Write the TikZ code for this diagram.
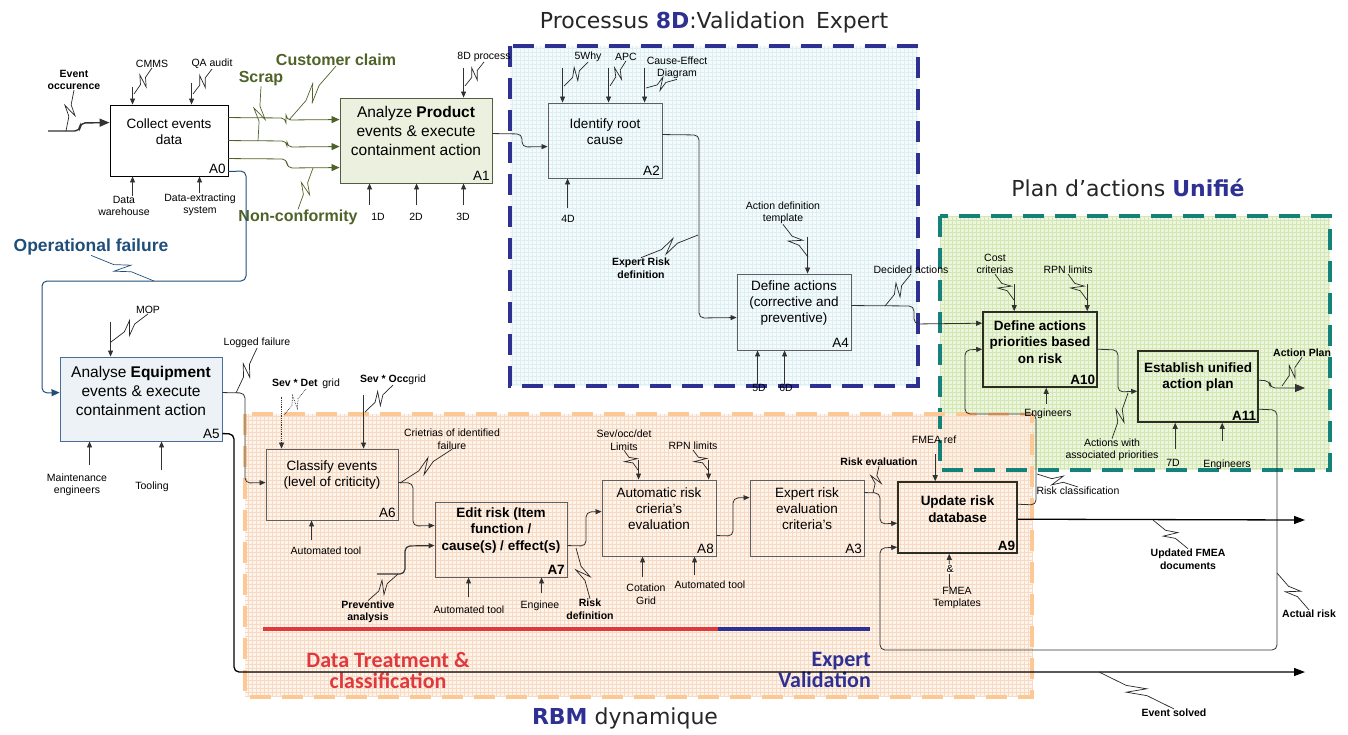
\documentclass[tikz,border=0pt]{standalone}
\usepackage{fontspec}
\setmainfont{Liberation Sans}
\newfontfamily\titlefont{DejaVu Sans}
\newfontfamily\bandfont{Carlito}
\usetikzlibrary{arrows.meta, calc}
\definecolor{c8d}{RGB}{46,49,146}
\definecolor{cteal}{RGB}{20,130,120}
\definecolor{corange}{RGB}{251,200,150}
\definecolor{fill8d}{RGB}{245,251,252}
\definecolor{grid8d}{RGB}{222,239,243}
\definecolor{fillplan}{RGB}{236,246,222}
\definecolor{gridplan}{RGB}{210,231,178}
\definecolor{fillrbm}{RGB}{253,241,229}
\definecolor{gridrbm}{RGB}{248,218,196}
\definecolor{mygreen}{RGB}{79,98,40}
\definecolor{opblue}{RGB}{31,78,121}
\definecolor{linegray}{RGB}{50,50,50}
\definecolor{boxgray}{RGB}{95,95,95}
\definecolor{boxdark}{RGB}{45,45,35}
\definecolor{a1fill}{RGB}{235,241,222}
\definecolor{a1draw}{RGB}{80,95,65}
\definecolor{a5fill}{RGB}{237,242,246}
\definecolor{a5draw}{RGB}{70,110,150}
\definecolor{redbar}{RGB}{224,56,60}
\tikzset{
  proc/.style={rectangle, draw=boxgray, line width=0.9pt, inner sep=0pt},
  boldproc/.style={proc, draw=boxdark, line width=1.6pt},
  boxtxt/.style={align=center, inner sep=0pt, font=\fontsize{13.5}{16}\selectfont},
  bigtxt/.style={align=center, inner sep=0pt, font=\fontsize{15.5}{19}\selectfont},
  boldtxt/.style={align=center, inner sep=0pt, font=\fontsize{13.5}{16.5}\selectfont\bfseries},
  num/.style={anchor=south east, inner sep=2.5pt, font=\fontsize{13.5}{16}\selectfont},
  lbl/.style={align=center, inner sep=0pt, font=\fontsize{10.5}{12.5}\selectfont},
  blbl/.style={align=center, inner sep=0pt, font=\fontsize{10.5}{12.5}\selectfont\bfseries},
  glbl/.style={inner sep=0pt, text=mygreen, font=\fontsize{16}{18}\selectfont\bfseries},
  title/.style={inner sep=0pt, text=black!85, font=\titlefont\fontsize{22}{26}\selectfont},
  band/.style={inner sep=0pt, font=\bandfont\fontsize{22}{21}\selectfont\bfseries},
  flow/.style={draw=linegray, line width=0.8pt, rounded corners=5pt, -{Triangle[length=6pt,width=5pt]}},
  gflow/.style={flow, draw=mygreen, fill=none, -{Triangle[length=8pt,width=7pt,fill=mygreen]}},
  bflow/.style={flow, draw=opblue, line width=1pt, -{Triangle[length=8pt,width=7pt,fill=opblue]}},
  bigflow/.style={flow, draw=black, line width=1.3pt, -{Triangle[length=11pt,width=8pt]}},
  squig/.style={draw=black!85, line width=0.7pt, to path={-- ($(\tikztostart)!0.36!(\tikztotarget)$)
    -- ($(\tikztostart)!0.60!(\tikztotarget)!6pt!90:(\tikztotarget)$)
    -- ($(\tikztostart)!0.40!(\tikztotarget)!6pt!-90:(\tikztotarget)$)
    -- ($(\tikztostart)!0.64!(\tikztotarget)$) -- (\tikztotarget)}},
  zone/.style={line width=4pt, dash pattern=on 21pt off 11pt}
}
\begin{document}
\begin{tikzpicture}[x=1pt, y=-1pt]
  \useasboundingbox (0,0) rectangle (1348,734);

  % zones with grid paper
  \fill[fill8d] (510,46) rectangle (918,386);
  \draw[grid8d, step=4pt, line width=0.25pt] (510,46) grid (918,386);
  \fill[fillplan] (940,216) rectangle (1330,470);
  \draw[gridplan, step=4pt, line width=0.25pt] (940,216) grid (1330,470);
  \fill[fillrbm, fill opacity=0.78] (245,414) rectangle (1032,697);
  \draw[gridrbm, step=4pt, line width=0.25pt] (245,414) grid (1032,697);
  \draw[zone, draw=c8d] (510,46) rectangle (918,386);
  \draw[zone, draw=cteal] (940,216) rectangle (1330,470);
  \draw[zone, draw=corange] (245,414) rectangle (1032,697);

  % zone titles
  \node[title] (t8d) at (714,22) {Processus \textcolor{c8d}{\bfseries 8D}:Validation\, Expert};
  \node[title] (tplan) at (1128,188) {Plan d’actions \textcolor{c8d}{\bfseries Unifié}};
  \node[title] (trbm) at (625,718) {\textcolor{c8d}{\bfseries RBM} dynamique};
  \draw[redbar, line width=4pt] (263,629) -- (718,629);
  \draw[c8d, line width=4pt] (718,629) -- (870,629);
  \node[band, text=redbar, align=center] (bdata) at (388,670) {Data Treatment \&\\classification};
  \node[band, text=c8d, align=right, anchor=east] (bexp) at (871,670) {Expert\\Validation};

  % activity boxes
  \node[proc, draw=black, minimum width=118pt, minimum height=71pt, label={[num]south east:A0}] (A0) at (169,140.5) {};
  \node[boxtxt] (A0t) at (169,132) {Collect events\\data};
  \node[proc, draw=a1draw, fill=a1fill, minimum width=152pt, minimum height=85pt, label={[num]south east:A1}] (A1) at (416,140.5) {};
  \node[bigtxt] (A1t) at (416,131) {Analyze \textbf{Product}\\events \& execute\\containment action};
  \node[proc, minimum width=114pt, minimum height=75pt, label={[num]south east:A2}] (A2) at (605,140.5) {};
  \node[boxtxt] (A2t) at (605,132) {Identify root\\cause};
  \node[proc, minimum width=114pt, minimum height=76pt, label={[num]south east:A4}] (A4) at (794,312) {};
  \node[boxtxt] (A4t) at (794,303) {Define actions\\(corrective and\\preventive)};
  \node[boldproc, minimum width=114pt, minimum height=75pt, label={[num, font=\fontsize{13.5}{16}\selectfont\bfseries]south east:A10}] (A10) at (1040,349.5) {};
  \node[boldtxt] (A10t) at (1040,342) {Define actions\\priorities based\\on risk};
  \node[boldproc, minimum width=120pt, minimum height=71pt, label={[num, font=\fontsize{13.5}{16}\selectfont\bfseries]south east:A11}] (A11) at (1198,386.5) {};
  \node[boldtxt] (A11t) at (1198,377) {Establish unified\\action plan};
  \node[proc, draw=a5draw, fill=a5fill, minimum width=162pt, minimum height=84pt, label={[num]south east:A5}] (A5) at (141,399) {};
  \node[bigtxt] (A5t) at (141,391) {Analyse \textbf{Equipment}\\events \& execute\\containment action};
  \node[proc, minimum width=132pt, minimum height=71pt, label={[num]south east:A6}] (A6) at (332,484.5) {};
  \node[boxtxt] (A6t) at (332,475) {Classify events\\(level of criticity)};
  \node[proc, minimum width=132pt, minimum height=75pt, label={[num, font=\fontsize{13.5}{16}\selectfont\bfseries]south east:A7}] (A7) at (501,539.5) {};
  \node[boldtxt] (A7t) at (501,530) {Edit risk (Item\\function /\\cause(s) / effect(s)};
  \node[proc, minimum width=114pt, minimum height=76pt, label={[num]south east:A8}] (A8) at (659,518) {};
  \node[boxtxt] (A8t) at (659,509) {Automatic risk\\crieria’s\\evaluation};
  \node[proc, minimum width=114pt, minimum height=76pt, label={[num]south east:A3}] (A3) at (807,518) {};
  \node[boxtxt] (A3t) at (807,509) {Expert risk\\evaluation\\criteria’s};
  \node[boldproc, minimum width=119pt, minimum height=71pt, label={[num, font=\fontsize{13.5}{16}\selectfont\bfseries]south east:A9}] (A9) at (957.5,517.5) {};
  \node[boldtxt] (A9t) at (957.5,509) {Update risk\\database};

  % free ends
  \coordinate (inEvent) at (48,131);
  \coordinate (inPrev) at (377,574);
  \coordinate (outPlan) at (1305,388);
  \coordinate (outFMEA) at (1305,520);
  \coordinate (outSolved) at (1305,672);

  % labels
  \node[blbl] (lEvent) at (74,80) {Event\\occurence};
  \node[lbl] (lCMMS) at (152,64) {CMMS};
  \node[lbl] (lQA) at (212,64) {QA audit};
  \node[lbl] (lWare) at (124,206) {Data\\warehouse};
  \node[lbl] (lExtract) at (200,205) {Data-extracting\\system};
  \node[glbl] (lScrap) at (261,79) {Scrap};
  \node[glbl] (lClaim) at (336,60) {Customer claim};
  \node[glbl] (lNonconf) at (298,217) {Non-conformity};
  \node[inner sep=0pt, text=opblue, font=\fontsize{17.5}{20}\selectfont\bfseries] (lOpfail) at (91,247) {Operational failure};
  \node[lbl] (l8D) at (484,57) {8D process};
  \node[lbl] (l1D) at (378,217) {1D};
  \node[lbl] (l2D) at (416,217) {2D};
  \node[lbl] (l3D) at (463,217) {3D};
  \node[lbl] (l5Why) at (588,57) {5Why};
  \node[lbl] (lAPC) at (626,57) {APC};
  \node[lbl] (lCause) at (677,68) {Cause-Effect\\Diagram};
  \node[lbl] (l4D) at (568,219) {4D};
  \node[blbl] (lExpRisk) at (641,268) {Expert Risk\\definition};
  \node[lbl] (lActTpl) at (783,213) {Action definition\\template};
  \node[lbl] (lDecided) at (911,270) {Decided actions};
  \node[lbl] (l5D) at (759,388) {5D};
  \node[lbl] (l6D) at (786,388) {6D};
  \node[lbl] (lCost) at (995,264) {Cost\\criterias};
  \node[lbl] (lRPN1) at (1068,270) {RPN limits};
  \node[lbl] (lEng1) at (1048,414) {Engineers};
  \node[lbl] (lActPrio) at (1112,450) {Actions with\\associated priorities};
  \node[lbl] (l7D) at (1173,463) {7D};
  \node[lbl] (lEng2) at (1227,465) {Engineers};
  \node[blbl, anchor=west] (lActPlan) at (1273,353) {Action Plan};
  \node[lbl] (lMOP) at (148,310) {MOP};
  \node[lbl] (lLogged) at (257,343) {Logged failure};
  \node[lbl] (lMaint) at (77,485) {Maintenance\\engineers};
  \node[lbl] (lTool) at (152,487) {Tooling};
  \node[lbl] (lSevDet) at (306,384) {\textbf{Sev * Det}\, grid};
  \node[lbl] (lSevOcc) at (393,380) {\textbf{Sev * Occ}grid};
  \node[lbl] (lCrit) at (452,439) {Crietrias of identified\\failure};
  \node[lbl] (lAuto1) at (326,551) {Automated tool};
  \node[blbl] (lPrev) at (368,612) {Preventive\\analysis};
  \node[lbl] (lAuto2) at (469,610) {Automated tool};
  \node[lbl] (lEngn) at (540,606) {Enginee};
  \node[blbl] (lRiskDef) at (590,609) {Risk\\definition};
  \node[lbl] (lSevLim) at (624,440) {Sev/occ/det\\Limits};
  \node[lbl] (lRPN2) at (693,446) {RPN limits};
  \node[lbl] (lCot) at (646,594) {Cotation\\Grid};
  \node[lbl] (lAuto3) at (710,585) {Automated tool};
  \node[blbl] (lRiskEval) at (879,462) {Risk evaluation};
  \node[lbl] (lFMEAref) at (934,440) {FMEA ref};
  \node[lbl] (lTpl) at (957,598) {FMEA\\Templates};
  \node[lbl] (lRiskClass) at (1078,491) {Risk classification};
  \node[blbl] (lUpdFMEA) at (1188,559) {Updated FMEA\\documents};
  \node[blbl] (lActual) at (1309,614) {Actual risk};
  \node[blbl] (lSolved) at (1174,713) {Event solved};

  % A0
  \draw[flow, line width=1.4pt, -{Triangle[length=10pt,width=8pt]}] (inEvent) -- (80,131) -- (80,123) -- ($(A0.north west)+(0,18)$);
  \draw[flow] ($(A0.north west)+(23,-18)$) -- ++(0,18);
  \draw[flow] ($(A0.north west)+(82,-22)$) -- ++(0,22);
  \draw[flow] ($(A0.south west)+(23,20)$) -- ++(0,-20);
  \draw[flow] ($(A0.south west)+(90,17)$) -- ++(0,-17);
  \draw[gflow] ($(A0.north east)+(0,13)$) -- (286,118) -- (286,120) -- ($(A1.north west)+(0,22)$);
  \draw[gflow] ($(A0.north east)+(0,36)$) -- (287,141) -- (287,147) -- ($(A1.north west)+(0,49)$);
  \draw[gflow] ($(A0.north east)+(0,54)$) -- (287,159) -- (287,168) -- ($(A1.north west)+(0,70)$);
  \draw[bflow] ($(A0.south east)+(0,-5)$) -- (246,171) -- (246,281) -- (42,281) -- (42,393) -- ($(A5.north west)+(0,36)$);

  % A1, A2, A4
  \draw[flow] ($(A1.north west)+(124,-30)$) -- ++(0,30);
  \draw[flow] ($(A1.south west)+(30,22)$) -- ++(0,-22);
  \draw[flow] ($(A1.south west)+(77,22)$) -- ++(0,-22);
  \draw[flow] ($(A1.south west)+(124,22)$) -- ++(0,-22);
  \draw[flow] ($(A1.north east)+(0,36)$) -- (522,134) -- (522,147) -- ($(A2.north west)+(0,44)$);
  \draw[flow] ($(A2.north west)+(15,-35)$) -- ++(0,35);
  \draw[flow] ($(A2.north west)+(61,-35)$) -- ++(0,35);
  \draw[flow] ($(A2.north west)+(97,-35)$) -- ++(0,35);
  \draw[flow] ($(A2.south west)+(20,30)$) -- ++(0,-30);
  \draw[flow] ($(A2.north east)+(0,32)$) -- (699,135) -- (699,318) -- ($(A4.north west)+(0,44)$);
  \draw[flow] ($(A4.north west)+(71,-37)$) -- ++(0,37);
  \draw[flow] ($(A4.south west)+(21,34)$) -- ++(0,-34);
  \draw[flow] ($(A4.south west)+(48,34)$) -- ++(0,-34);
  \draw[flow] ($(A4.north east)+(0,32)$) -- (914,306) -- (914,324) -- ($(A10.north west)+(0,12)$);

  % A10, A11
  \draw[flow] ($(A10.north west)+(32,-27)$) -- ++(0,27);
  \draw[flow] ($(A10.north west)+(105,-27)$) -- ++(0,27);
  \draw[flow] ($(A10.south west)+(64,16)$) -- ++(0,-16);
  \draw[flow] ($(A10.north east)+(0,38)$) -- (1118,350) -- (1118,392) -- ($(A11.north west)+(0,41)$);
  \draw[flow] ($(A11.south west)+(38,26)$) -- ++(0,-26);
  \draw[flow] ($(A11.south west)+(85,18)$) -- ++(0,-18);
  \draw[flow, -{Triangle[length=10pt,width=8pt]}] ($(A11.north east)+(0,30)$) -- (1270,381) -- (1270,388) -- (outPlan);
  \draw[flow] ($(A11.north east)+(0,59)$) -- (1277,410) -- (1277,650) -- (880,650) -- (880,548) -- ($(A9.north west)+(0,66)$);

  % A5, A6, A7
  \draw[flow] ($(A5.north west)+(51,-35)$) -- ++(0,35);
  \draw[flow] ($(A5.south west)+(30,24)$) -- ++(0,-24);
  \draw[flow] ($(A5.south west)+(102,29)$) -- ++(0,-29);
  \draw[flow] ($(A5.north east)+(0,36)$) -- (245,393) -- (245,483) -- ($(A6.north west)+(0,34)$);
  \draw[bigflow] ($(A5.north east)+(0,77)$) -- (234,434) -- (234,672) -- (outSolved);
  \draw[flow, densely dotted] ($(A6.north west)+(16,-52)$) -- ++(0,52);
  \draw[flow] ($(A6.north west)+(98,-54)$) -- ++(0,54);
  \draw[flow] ($(A6.south west)+(46,20)$) -- ++(0,-20);
  \draw[flow] ($(A6.north east)+(0,34)$) -- (413,483) -- (413,526) -- ($(A7.north west)+(0,24)$);
  \draw[flow, line width=1.2pt] (inPrev) -- (405,574) -- (405,546) -- ($(A7.north west)+(0,44)$);
  \draw[flow] ($(A7.south west)+(34,20)$) -- ++(0,-20);
  \draw[flow] ($(A7.south west)+(107,16)$) -- ++(0,-16);
  \draw[flow] ($(A7.north east)+(0,44)$) -- (586,546) -- (586,512) -- ($(A8.north west)+(0,32)$);

  % A8, A3, A9
  \draw[flow] ($(A8.north west)+(37,-20)$) -- ++(0,20);
  \draw[flow] ($(A8.north west)+(107,-20)$) -- ++(0,20);
  \draw[flow] ($(A8.south west)+(41,21)$) -- ++(0,-21);
  \draw[flow] ($(A8.south west)+(93,19)$) -- ++(0,-19);
  \draw[flow] ($(A8.north east)+(0,56)$) -- (733,536) -- (733,498) -- ($(A3.north west)+(0,18)$);
  \draw[flow] ($(A3.north east)+(0,13)$) -- (880,493) -- (880,524) -- ($(A9.north west)+(0,42)$);
  \draw[flow] ($(A9.north west)+(38,-27)$) -- ++(0,27);
  \draw[flow] (lTpl.north -| A9.south) ++(-8,0) -- ($(A9.south west)+(52,0)$);
  \node[lbl, fill=fillrbm, inner sep=1pt] (lAmp) at (950,569) {\&};
  \draw[bigflow] ($(A9.north east)+(0,38)$) -- (outFMEA);
  \draw[flow] ($(A9.north east)+(0,23)$) -- (1036,505) -- (1036,414) -- (965,414) -- (965,350) -- ($(A10.north west)+(0,38)$);

  % label leaders
  \draw[squig] (lEvent.south) to (66,131);
  \draw[squig] (lCMMS.south) to (134,94);
  \draw[squig] (lQA.south) to (193,94);
  \draw[squig, draw=mygreen] (lScrap.south) to (258,141);
  \draw[squig, draw=mygreen] (lClaim.south) to (289,120);
  \draw[squig, draw=mygreen] (lNonconf.north) to (313,168);
  \draw[squig, draw=opblue] (lOpfail.south) to (154,281);
  \draw[squig] (l8D.south) to (465,86);
  \draw[squig] (l5Why.south) to (564,86);
  \draw[squig] (lAPC.south) to (610,86);
  \draw[squig] (lCause.south) to (646,88);
  \draw[squig] (lExpRisk.north) to (698,235);
  \draw[squig] (lActTpl.south) to (808,257);
  \draw[squig] (lDecided.south) to (885,306);
  \draw[squig] (lCost.south) to (1014,300);
  \draw[squig] (lRPN1.south) to (1087,300);
  \draw[squig] (lActPrio.north) to (1128,393);
  \draw[squig] (lActPlan.south) to (1282,386);
  \draw[squig] (lActual.north) to (1277,573);
  \draw[squig] (lMOP.south) to (111,342);
  \draw[squig] (lLogged.south) to (236,393);
  \draw[squig, densely dotted] (lSevDet.south) to (284,415);
  \draw[squig] (lSevOcc.south) to (365,412);
  \draw[squig] (lCrit.south) to (400,483);
  \draw[squig] (lPrev.north) to (398,574);
  \draw[squig] (lRiskDef.north) to (576,548);
  \draw[squig] (lSevLim.south) to (638,470);
  \draw[squig] (lRPN2.south) to (708,470);
  \draw[squig] (lRiskEval.south) to (873,493);
  \draw[squig] (lRiskClass.north) to (1037,474);
  \draw[squig] (lUpdFMEA.north) to (1153,520);
  \draw[squig] (lSolved.north) to (1099,672);
\end{tikzpicture}
\end{document}
